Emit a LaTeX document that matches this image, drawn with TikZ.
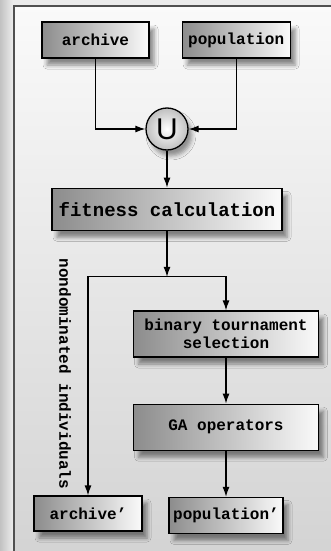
\documentclass[tikz,border=0pt]{standalone}
\usepackage{fontspec}
\setmonofont{Liberation Mono}
\newfontfamily\unionfont{Liberation Sans}
\usetikzlibrary{positioning,arrows.meta,shadows.blur}
\definecolor{framegray}{RGB}{80,80,80}

\begin{document}
\begin{tikzpicture}[x=1pt, y=1pt, node distance=46pt,
    stepbox/.style={draw=black, line width=1.2pt, left color=black!45, right color=black!2,
      font=\fontsize{16}{18}\selectfont\ttfamily\bfseries, align=center, inner sep=0pt,
      blur shadow={shadow xshift=5pt, shadow yshift=-7pt, shadow blur radius=4pt, shadow opacity=45}},
    unionnode/.style={circle, draw=black, line width=1.3pt, minimum size=42pt, inner sep=0pt,
      inner color=white, outer color=black!25, font=\unionfont\fontsize{30}{30}\selectfont,
      blur shadow={shadow xshift=4pt, shadow yshift=-6pt, shadow blur radius=4pt, shadow opacity=40}},
    flow/.style={-{Latex[length=10pt,width=7pt]}, line width=1.2pt}]
      \useasboundingbox (0,0) rectangle (331,-551);
      % background and frame
      \shade[left color=black!24, right color=black!6] (0,0) rectangle (14,-551);
      \fill[black!8] (14,0) rectangle (331,-6);
      \shade[top color=black!2, bottom color=black!17] (14,-6) rectangle (331,-551);
      \draw[framegray, line width=1.5pt] (331,-6) -- (14,-6) -- (14,-551);

      \node[stepbox, minimum width=107pt, minimum height=36pt] (archive) at (95.5,-40) {archive};
      \node[stepbox, minimum width=108pt, minimum height=36pt, right=32pt of archive] (population) {population};
      \node[unionnode] (union) at (167,-129) {U};
      \node[stepbox, minimum width=230pt, minimum height=42pt, below=37pt of union,
        font=\fontsize{19}{22}\selectfont\ttfamily\bfseries] (fitness) {fitness calculation};
      \coordinate[below=46pt of fitness] (split);
      \node[stepbox, minimum width=185pt, minimum height=46pt] (selection) at (226,-334) {binary tournament\\selection};
      \node[stepbox, minimum width=185pt, minimum height=46pt, below=of selection] (operators) {GA operators};
      \node[stepbox, minimum width=114pt, minimum height=36pt, below=of operators] (newpop) {population’};
      \node[stepbox, minimum width=108pt, minimum height=35pt] (newarchive) at (88,-513.5) {archive’};
      \node[rotate=-90, font=\fontsize{16}{18}\selectfont\ttfamily\bfseries] (nondom) at (65,-374) {nondominated individuals};

      \draw[flow] (archive) |- (union);
      \draw[flow] (population) |- (union);
      \draw[flow] (union) -- (fitness);
      \draw[flow] (fitness) -- (split);
      \draw[flow] (split) -| (selection);
      \draw[flow] (split) -| (newarchive);
      \draw[flow] (selection) -- (operators);
      \draw[flow] (operators) -- (newpop);
\end{tikzpicture}
\end{document}
